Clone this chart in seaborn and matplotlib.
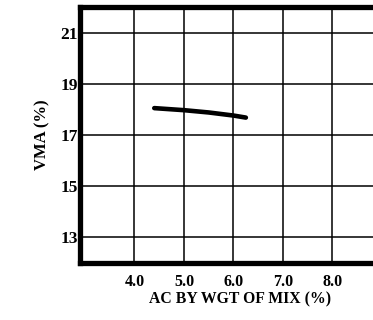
import matplotlib
matplotlib.use("Agg")
import matplotlib.pyplot as plt
import seaborn as sns
import pandas as pd

# Asphalt content vs. voids in mineral aggregate
ac_pct = [4.4, 5.0, 5.5, 6.0, 6.25]
vma_pct = [18.05, 17.97, 17.88, 17.76, 17.68]

x_ticks = [4.0, 5.0, 6.0, 7.0, 8.0]
x_tick_labels = ["4.0", "5.0", "6.0", "7.0", "8.0"]
y_ticks = [13, 15, 17, 19, 21]
y_tick_labels = ["13", "15", "17", "19", "21"]

sns.set_style("white")
plt.rcParams["font.family"] = ["Liberation Serif", "DejaVu Serif"]
plt.rcParams["font.weight"] = "bold"
plt.rcParams["text.color"] = "black"
plt.rcParams["axes.labelcolor"] = "black"

fig = plt.figure(figsize=(3.73, 3.20), dpi=100)
# axes runs past the right edge of the figure
ax = fig.add_axes([80 / 373, 57 / 320, 302 / 373, 256 / 320])

df = pd.DataFrame({"ac": ac_pct, "vma": vma_pct})
sns.lineplot(data=df, x="ac", y="vma", ax=ax, color="black", linewidth=3.3,
             solid_capstyle="round")

ax.set_xlim(2.9, 9.0)
ax.set_ylim(12, 22)
ax.set_xticks(x_ticks)
ax.set_xticklabels(x_tick_labels)
ax.set_yticks(y_ticks)
ax.set_yticklabels(y_tick_labels)
ax.tick_params(axis="both", length=0, colors="black")
ax.tick_params(axis="x", pad=8, labelsize=11.5)
ax.tick_params(axis="y", pad=1.5, labelsize=12.5)
for lab in ax.get_xticklabels() + ax.get_yticklabels():
    lab.set_fontweight("bold")

ax.grid(True, color="black", linewidth=1.1)
ax.set_axisbelow(True)

for side in ["left", "top", "bottom"]:
    ax.spines[side].set_visible(True)
    ax.spines[side].set_color("black")
    ax.spines[side].set_linewidth(3.8)
ax.spines["right"].set_visible(False)

ax.set_xlabel("AC BY WGT OF MIX (%)", fontsize=11.3, fontweight="bold")
ax.set_ylabel("VMA (%)", fontsize=12, fontweight="bold")
ax.xaxis.set_label_coords(160 / 302, -28 / 256)
ax.yaxis.set_label_coords(-30 / 302, (263 - 135) / 256)

fig.savefig("out.png", dpi=100)
